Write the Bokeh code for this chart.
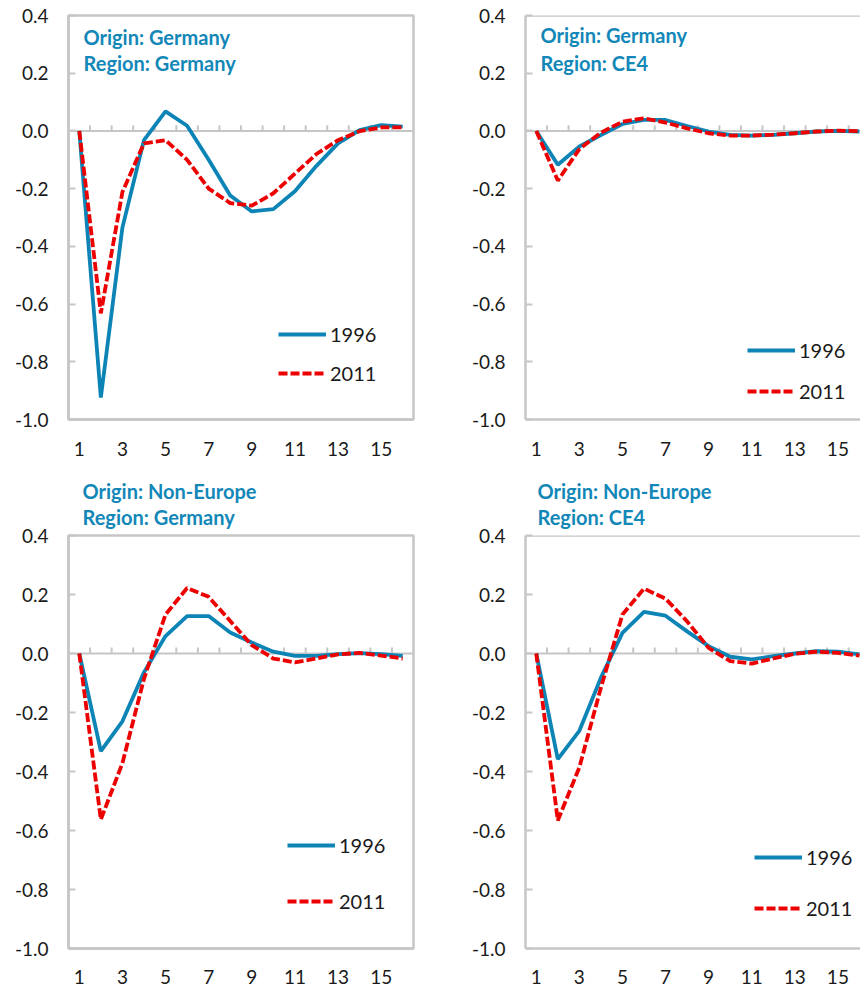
from bokeh.plotting import figure
from bokeh.models import Range1d, FixedTicker, Span, Label, Legend, LegendItem, NumeralTickFormatter, Title
from bokeh.layouts import column, row
from bokeh.embed import file_html
from bokeh.resources import INLINE

# ---------------- data ----------------
periods = list(range(1, 17))
y_ticks = [-1.0, -0.8, -0.6, -0.4, -0.2, 0.0, 0.2, 0.4]
x_tick_values = [1, 3, 5, 7, 9, 11, 13, 15]
series_names = ["1996", "2011"]

ger_ger_1996 = [0.0, -0.924, -0.335, -0.032, 0.068, 0.018, -0.100, -0.224,
                -0.279, -0.271, -0.209, -0.121, -0.043, 0.003, 0.020, 0.015]
ger_ger_2011 = [0.0, -0.632, -0.212, -0.043, -0.032, -0.100, -0.200, -0.250,
                -0.259, -0.216, -0.148, -0.080, -0.032, -0.001, 0.012, 0.012]

ger_ce4_1996 = [0.0, -0.117, -0.054, -0.014, 0.024, 0.038, 0.038, 0.017,
                -0.002, -0.014, -0.016, -0.014, -0.008, -0.002, 0.000, -0.002]
ger_ce4_2011 = [0.0, -0.172, -0.063, -0.006, 0.032, 0.044, 0.029, 0.009,
                -0.008, -0.016, -0.016, -0.013, -0.008, -0.002, 0.001, -0.001]

neu_ger_1996 = [0.0, -0.331, -0.230, -0.064, 0.059, 0.127, 0.127, 0.071,
                0.037, 0.006, -0.008, -0.008, -0.002, 0.001, -0.002, -0.008]
neu_ger_2011 = [0.0, -0.563, -0.372, -0.086, 0.132, 0.222, 0.192, 0.110,
                0.028, -0.017, -0.030, -0.017, -0.003, 0.002, -0.007, -0.017]

neu_ce4_1996 = [0.0, -0.358, -0.262, -0.082, 0.070, 0.141, 0.128, 0.075,
                0.025, -0.011, -0.020, -0.009, 0.000, 0.008, 0.006, -0.003]
neu_ce4_2011 = [0.0, -0.566, -0.386, -0.116, 0.132, 0.220, 0.186, 0.109,
                0.019, -0.026, -0.034, -0.017, -0.001, 0.006, 0.002, -0.007]

titles = [("Origin: Germany", "Region: Germany"),
          ("Origin: Germany", "Region: CE4"),
          ("Origin: Non-Europe", "Region: Germany"),
          ("Origin: Non-Europe", "Region: CE4")]

# ---------------- styles ----------------
FONT = "Lato"
BLUE = "#0c84b5"
RED = "#ec0000"
TITLE_COLOR = "#1287b8"
FRAME = "#c6c6c6"
TEXT = "#1a1a1a"


def make_panel(title_lines, v96, v11, cfg):
    p = figure(width=cfg["w"], height=cfg["h"], output_backend="svg", toolbar_location=None,
               x_range=Range1d(0.5, cfg["xend"]), y_range=Range1d(-1.0, 0.4),
               min_border_left=cfg["mbl"], min_border_right=cfg["mbr"],
               min_border_top=cfg["mbt"], min_border_bottom=cfg["mbb"])
    p.grid.visible = False
    p.background_fill_color = "white"
    p.border_fill_color = "white"
    if cfg["outline"]:
        p.outline_line_color = FRAME
        p.outline_line_width = 2.5
    else:
        p.outline_line_color = None
        p.add_layout(Span(location=0.4, dimension="width", line_color=FRAME, line_width=2.5))

    # zero line with category-boundary tick marks
    p.add_layout(Span(location=0, dimension="width", line_color=FRAME, line_width=2, level="underlay"))
    bounds = [c + 0.5 for c in periods[:-1]]
    p.segment(x0=bounds, y0=[0] * len(bounds), x1=bounds, y1=[0.02] * len(bounds),
              line_color=FRAME, line_width=2)

    r96 = p.line(periods, v96, line_color=BLUE, line_width=3.8)
    r11 = p.line(periods, v11, line_color=RED, line_width=3.8, line_dash="9 3")

    # y axis
    ya = p.yaxis[0]
    ya.ticker = FixedTicker(ticks=y_ticks)
    ya.formatter = NumeralTickFormatter(format="0.0")
    ya.major_tick_in = 7
    ya.major_tick_out = 0
    ya.major_tick_line_color = FRAME
    ya.major_tick_line_width = 2
    ya.minor_tick_line_color = None
    ya.axis_line_color = FRAME
    ya.axis_line_width = 2.5
    ya.major_label_standoff = 20
    ya.major_label_text_font = FONT
    ya.major_label_text_font_size = "19px"
    ya.major_label_text_color = TEXT

    # x axis
    xa = p.xaxis[0]
    xa.ticker = FixedTicker(ticks=x_tick_values)
    xa.major_tick_in = 0
    xa.major_tick_out = 0
    xa.minor_tick_line_color = None
    xa.axis_line_color = FRAME
    xa.axis_line_width = 2.5
    xa.major_label_standoff = cfg["xstand"]
    xa.major_label_text_font = FONT
    xa.major_label_text_font_size = "19px"
    xa.major_label_text_color = TEXT

    legend = Legend(items=[LegendItem(label=series_names[0], renderers=[r96]),
                           LegendItem(label=series_names[1], renderers=[r11])],
                    location=cfg["leg_loc"], orientation="vertical", spacing=cfg["leg_sp"],
                    padding=0, margin=0, border_line_color=None, background_fill_alpha=0,
                    glyph_width=48, glyph_height=20, label_height=20, label_standoff=4,
                    label_text_font=FONT, label_text_font_size="20px", label_text_color=TEXT)
    p.add_layout(legend)

    if cfg["title_inside"]:
        for txt, (lx, ly) in zip(title_lines, cfg["title_pos"]):
            p.add_layout(Label(x=lx, y=ly, text=txt, text_font=FONT, text_font_style="bold",
                               text_font_size="20px", text_color=TITLE_COLOR, text_baseline="middle"))
    else:
        p.add_layout(Title(text="\n".join(title_lines), align="left", offset=cfg["title_offset"],
                           standoff=cfg["title_standoff"], text_line_height=1.08,
                           text_font=FONT, text_font_style="bold", text_font_size="20px",
                           text_color=TITLE_COLOR), "above")
    return p


cfgs = [
    dict(w=430, h=470, mbl=68, mbr=17, mbt=15, mbb=51, xend=16.5, xstand=22, outline=True,
         title_inside=True, title_pos=[(1.196, 0.326), (1.196, 0.234)], leg_loc=(210, 34), leg_sp=15),
    dict(w=430, h=470, mbl=95, mbr=0, mbt=15, mbb=51, xend=16.05, xstand=22, outline=False,
         title_inside=True, title_pos=[(1.196, 0.331), (1.196, 0.237)], leg_loc=(222, 16), leg_sp=17),
    dict(w=430, h=522, mbl=68, mbr=17, mbt=63, mbb=44, xend=16.5, xstand=21, outline=True,
         title_inside=False, title_offset=14, title_standoff=13, leg_loc=(219, 35), leg_sp=32),
    dict(w=430, h=522, mbl=95, mbr=0, mbt=63, mbb=44, xend=16.05, xstand=21, outline=False,
         title_inside=False, title_offset=12, title_standoff=13, leg_loc=(229, 28), leg_sp=27),
]
data = [(ger_ger_1996, ger_ger_2011), (ger_ce4_1996, ger_ce4_2011),
        (neu_ger_1996, neu_ger_2011), (neu_ce4_1996, neu_ce4_2011)]

panels = [make_panel(t, d[0], d[1], c) for t, d, c in zip(titles, data, cfgs)]
layout = column(row(panels[0], panels[1]), row(panels[2], panels[3]))

open("out.html", "w").write(file_html(layout, INLINE))
